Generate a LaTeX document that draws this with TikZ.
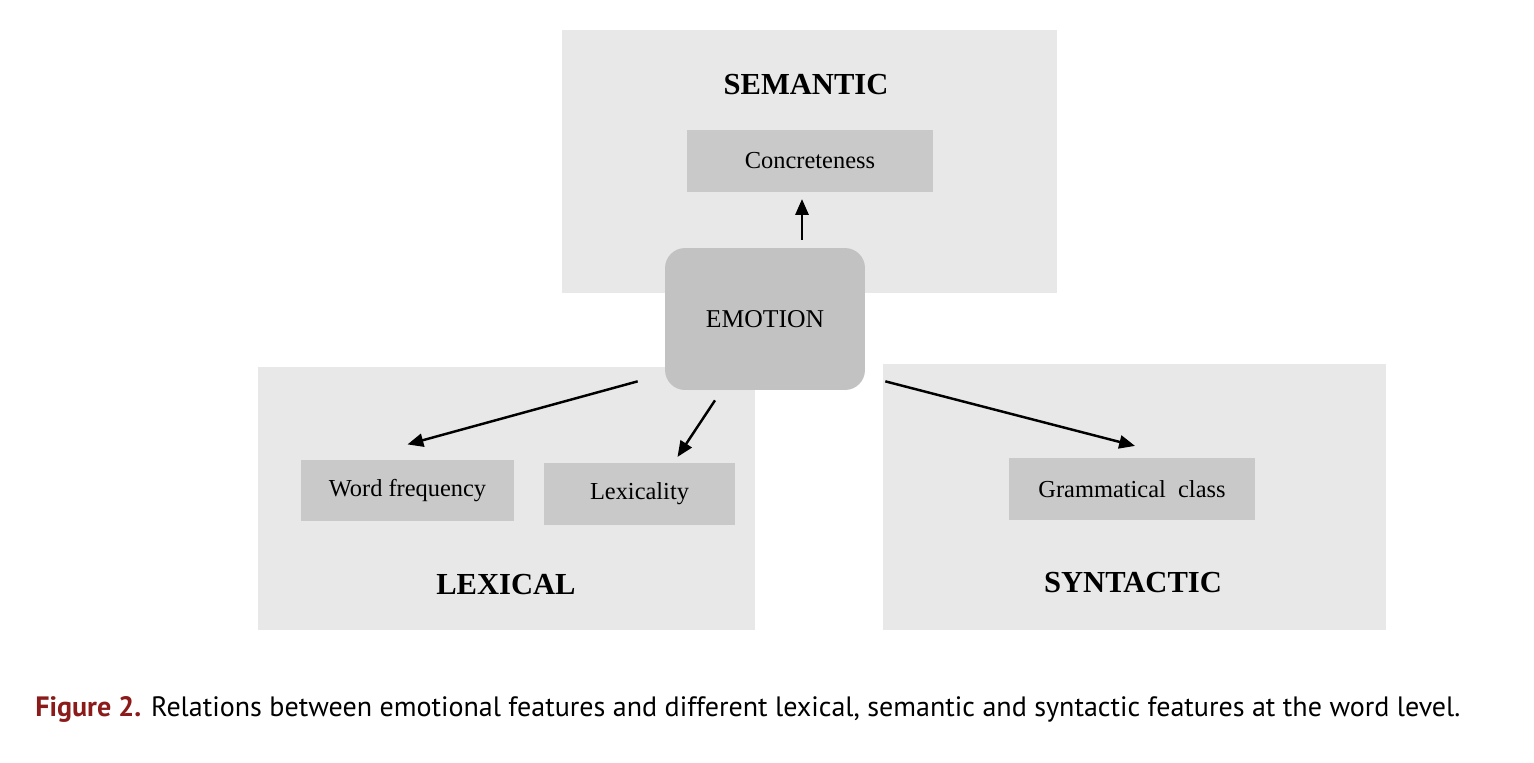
\documentclass[tikz,border=0pt]{standalone}
\usepackage{fontspec}
\setmainfont{Liberation Serif}
\newfontfamily\capfont{PT Sans}
\usepackage{xcolor}
\usetikzlibrary{arrows.meta,positioning,calc}

\definecolor{regiongray}{HTML}{E8E8E8}
\definecolor{featgray}{HTML}{C9C9C9}
\definecolor{emogray}{HTML}{C2C2C2}
\definecolor{figred}{HTML}{8B1A1A}

\begin{document}
\begin{tikzpicture}[
    x=0.02cm, y=-0.02cm,
    region/.style={fill=regiongray, inner sep=0pt},
    feature/.style={fill=featgray, inner sep=0pt, minimum height=1.23cm,
                    font=\fontsize{13.9}{16}\selectfont},
    title/.style={font=\fontsize{17.4}{20}\selectfont\bfseries},
    arrow/.style={-{Triangle[length=9pt,width=7.5pt]}, line width=1.4pt},
]
\useasboundingbox (0,0) rectangle (1534,762);

% ── Feature regions ──
\node[region, minimum width=9.9cm, minimum height=5.26cm] (semantic) at (809.5,161.5) {};
\node[region, minimum width=9.94cm, minimum height=5.26cm] (lexical) at (506.5,498.5) {};
\node[region, minimum width=10.06cm, minimum height=5.32cm] (syntactic) at (1134.5,497) {};

% ── Region titles ──
\node[title] (semtitle) at (806,85) {SEMANTIC};
\node[title] (lextitle) at (506,585) {LEXICAL};
\node[title] (syntitle) at (1133,583) {SYNTACTIC};

% ── Central node ──
\node[fill=emogray, rounded corners=0.4cm, minimum width=4cm, minimum height=2.84cm,
      font=\fontsize{14.6}{16}\selectfont] (emotion) at (765,319) {EMOTION};

% ── Features ──
\node[feature, minimum width=4.92cm] (concrete) at (810,161) {Concreteness};
\node[feature, minimum width=4.26cm] (wordfreq) at (407.5,490.5) {Word frequency};
\node[feature, minimum width=3.82cm] (lexicality) at (639.5,494) {Lexicality};
\node[feature, minimum width=4.94cm] (gramclass) at (1132,489) {Grammatical\ \ class};

% ── Arrows ──
\draw[arrow] ($(emotion.north)+(37,-8)$) -- ($(concrete.south)+(-8,7)$);
\draw[arrow] ($(emotion.south west)+(-27,-9)$) -- ($(wordfreq.north)+(0,-15)$);
\draw[arrow] ($(emotion.south)+(-50,10)$) -- ($(lexicality.north)+(38,-6)$);
\draw[arrow] ($(emotion.south east)+(20,-9)$) -- ($(gramclass.north)+(3,-12)$);

% ── Caption ──
\node[anchor=base west, inner sep=0pt, font=\capfont\fontsize{15.95}{18}\selectfont] (caption) at (35,716)
    {\textcolor{figred}{\bfseries Figure 2.} Relations between emotional features and different lexical, semantic and syntactic features at the word level.};

\end{tikzpicture}
\end{document}
